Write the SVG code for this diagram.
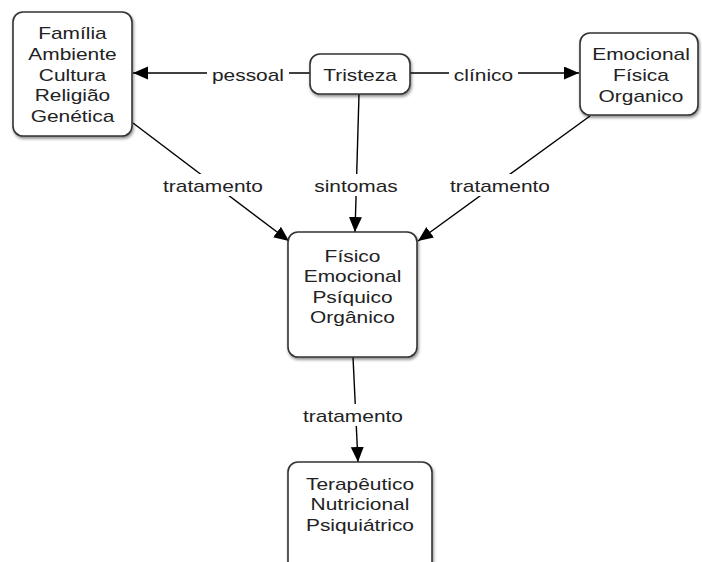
<svg xmlns="http://www.w3.org/2000/svg" width="702" height="562" viewBox="0 0 702 562">
<style>
.box{fill:#fff;stroke:#333;stroke-width:1.6;filter:url(#sh)}
.t{font-family:"Liberation Sans",Arial,sans-serif;font-size:17px;fill:#222;text-anchor:middle}
.e{stroke:#000;stroke-width:1.4;fill:none;marker-end:url(#ah)}
.bg{fill:#fff}
</style>
<defs>
<filter id="sh" x="-20%" y="-20%" width="140%" height="140%">
<feDropShadow dx="1" dy="2" stdDeviation="1.5" flood-color="#000" flood-opacity="0.45"/>
</filter>
<marker id="ah" markerUnits="userSpaceOnUse" markerWidth="16" markerHeight="14" refX="15" refY="6.5" orient="auto">
<path d="M0,0 L15,6.5 L0,13 z" fill="#000"/>
</marker>
</defs>
<rect width="702" height="562" fill="#fff"/>
<g id="connectors">
<path class="e" d="M310,73 L133,73"/>
<path class="e" d="M410,73 L579,73"/>
<path class="e" d="M359,94 L355,232"/>
<path class="e" d="M133,123 L289,241"/>
<path class="e" d="M590,116 L418,241"/>
<path class="e" d="M353,357 L358,462"/>
<rect class="bg" x="207" y="64" width="82" height="20"/>
<rect class="bg" x="449" y="64" width="69" height="20"/>
<rect class="bg" x="310" y="174" width="93" height="22"/>
<rect class="bg" x="158" y="174" width="110" height="22"/>
<rect class="bg" x="445" y="174" width="110" height="22"/>
<rect class="bg" x="298" y="404" width="111" height="22"/>
<text class="t" transform="scale(1.23 1)" x="201.63" y="81">pessoal</text>
<text class="t" transform="scale(1.23 1)" x="393.09" y="81">clínico</text>
<text class="t" transform="scale(1.23 1)" x="289.43" y="192">sintomas</text>
<text class="t" transform="scale(1.23 1)" x="173.17" y="192">tratamento</text>
<text class="t" transform="scale(1.23 1)" x="406.5" y="192">tratamento</text>
<text class="t" transform="scale(1.23 1)" x="287" y="422">tratamento</text>
</g>
<g id="n-fatores">
<rect class="box" x="13" y="12" width="119" height="124" rx="10"/>
<text class="t" transform="scale(1.23 1)" x="58.94" y="39">Família</text>
<text class="t" transform="scale(1.23 1)" x="58.94" y="60">Ambiente</text>
<text class="t" transform="scale(1.23 1)" x="58.94" y="81">Cultura</text>
<text class="t" transform="scale(1.23 1)" x="58.94" y="101.5">Religião</text>
<text class="t" transform="scale(1.23 1)" x="58.94" y="122">Genética</text>
</g>
<g id="n-tristeza">
<rect class="box" x="310" y="54" width="100" height="40" rx="10"/>
<text class="t" transform="scale(1.23 1)" x="292.68" y="81">Tristeza</text>
</g>
<g id="n-emocional">
<rect class="box" x="580" y="33" width="118" height="82" rx="10"/>
<text class="t" transform="scale(1.23 1)" x="521.14" y="60">Emocional</text>
<text class="t" transform="scale(1.23 1)" x="521.14" y="81">Física</text>
<text class="t" transform="scale(1.23 1)" x="521.14" y="102">Organico</text>
</g>
<g id="n-fisico">
<rect class="box" x="288" y="232" width="129" height="125" rx="10"/>
<text class="t" transform="scale(1.23 1)" x="286.59" y="262">Físico</text>
<text class="t" transform="scale(1.23 1)" x="286.59" y="282.5">Emocional</text>
<text class="t" transform="scale(1.23 1)" x="286.59" y="303">Psíquico</text>
<text class="t" transform="scale(1.23 1)" x="286.59" y="323.5">Orgânico</text>
</g>
<g id="n-terapeutico">
<rect class="box" x="288" y="462" width="144" height="112" rx="10"/>
<text class="t" transform="scale(1.23 1)" x="292.68" y="490">Terapêutico</text>
<text class="t" transform="scale(1.23 1)" x="292.68" y="510.5">Nutricional</text>
<text class="t" transform="scale(1.23 1)" x="292.68" y="531">Psiquiátrico</text>
</g>
</svg>
